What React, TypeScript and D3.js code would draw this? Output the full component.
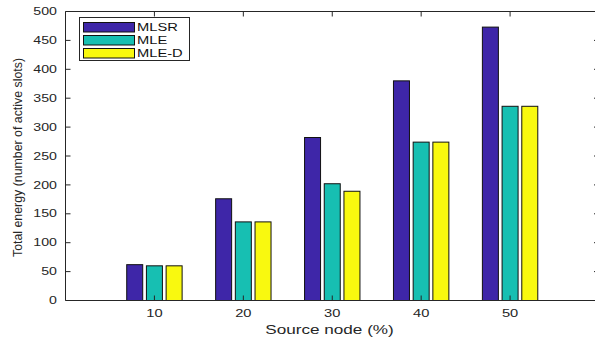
import React from "react";
import * as d3 from "d3";

const categories = [10, 20, 30, 40, 50];
const seriesNames = ["MLSR", "MLE", "MLE-D"];
const mlsr = [62, 176, 282, 380, 473];
const mle = [60, 136, 202, 274, 336];
const mleD = [60, 136, 189, 274, 336];
const yTicks = [0, 50, 100, 150, 200, 250, 300, 350, 400, 450, 500];
const colors = ["#3e26a8", "#17bfb2", "#f9f90f"];

const W = 595;
const H = 339;
const left = 65.5;
const right = 599;
const top = 11.5;
const bottom = 300.5;
const axisColor = "#262626";
const font = "'Liberation Sans', Arial, Helvetica, sans-serif";

function SText(props: {
  x: number;
  y: number;
  sx: number;
  size: number;
  anchor?: string;
  fill?: string;
  dy?: string;
  children: React.ReactNode;
}) {
  const { x, y, sx, size, anchor = "start", fill = axisColor, dy, children } = props;
  return (
    <text
      transform={`translate(${x},${y}) scale(${sx},1)`}
      textAnchor={anchor}
      fontSize={size}
      fill={fill}
      dy={dy}
    >
      {children}
    </text>
  );
}

export default function App() {
  const series = [mlsr, mle, mleD];
  const x = d3.scaleLinear().domain([0, 60]).range([left, right]);
  const y = d3.scaleLinear().domain([0, 500]).range([bottom, top]);
  const inner = d3
    .scaleBand<string>()
    .domain(seriesNames)
    .range([-27.7, 27.7])
    .paddingInner(0.188)
    .paddingOuter(0);
  const bw = inner.bandwidth();

  return (
    <svg
      width={W}
      height={H}
      style={{ position: "absolute", left: 0, top: 0, background: "#fff" }}
      fontFamily={font}
    >
      <rect x={0} y={0} width={W} height={H} fill="#fff" />
      {/* bars */}
      {series.map((vals, si) =>
        vals.map((v, ci) => {
          const x0 = x(categories[ci]) + (inner(seriesNames[si]) as number);
          return (
            <rect
              key={`${si}-${ci}`}
              x={x0}
              y={y(v)}
              width={bw}
              height={y(0) - y(v)}
              fill={colors[si]}
              stroke="#111"
              strokeWidth={1}
            />
          );
        })
      )}
      {/* axes box */}
      <g stroke={axisColor} strokeWidth={1} fill="none">
        <line x1={left} y1={bottom} x2={right} y2={bottom} />
        <line x1={left} y1={top} x2={right} y2={top} />
        <line x1={left} y1={top} x2={left} y2={bottom} />
        <line x1={right} y1={top} x2={right} y2={bottom} />
        {categories.map((c) => (
          <g key={c}>
            <line x1={x(c)} y1={bottom} x2={x(c)} y2={bottom - 5} />
            <line x1={x(c)} y1={top} x2={x(c)} y2={top + 5} />
          </g>
        ))}
        {yTicks.map((t) => (
          <g key={t}>
            <line x1={left} y1={y(t)} x2={left + 5} y2={y(t)} />
            <line x1={right} y1={y(t)} x2={right - 5} y2={y(t)} />
          </g>
        ))}
      </g>
      {/* y tick labels */}
      {yTicks.map((t) => (
        <SText key={t} x={57} y={y(t)} dy="0.35em" anchor="end" size={10.5} sx={1.35}>
          {t}
        </SText>
      ))}
      {/* x tick labels */}
      {categories.map((c) => (
        <SText key={c} x={x(c)} y={bottom + 13} dy="0.35em" anchor="middle" size={10.5} sx={1.4}>
          {c}
        </SText>
      ))}
      {/* axis labels */}
      <SText x={329.5} y={333.5} anchor="middle" size={13.5} sx={1.27}>
        Source node (%)
      </SText>
      <text
        transform={`translate(${21.5},${157.5}) rotate(-90)`}
        textAnchor="middle"
        fontSize={12.5}
        fill={axisColor}
        textLength={199}
        lengthAdjust="spacingAndGlyphs"
      >
        Total energy (number of active slots)
      </text>
      {/* legend */}
      <g>
        <rect x={79.5} y={17.5} width={110} height={43} fill="#fff" stroke={axisColor} strokeWidth={1} />
        {seriesNames.map((n, i) => (
          <g key={n}>
            <rect
              x={83.5}
              y={22.5 + i * 13}
              width={51}
              height={9.5}
              fill={colors[i]}
              stroke="#111"
              strokeWidth={1}
            />
            <SText x={137} y={27.3 + i * 13} dy="0.35em" size={11.5} sx={1.28} fill="#111">
              {n}
            </SText>
          </g>
        ))}
      </g>
    </svg>
  );
}
